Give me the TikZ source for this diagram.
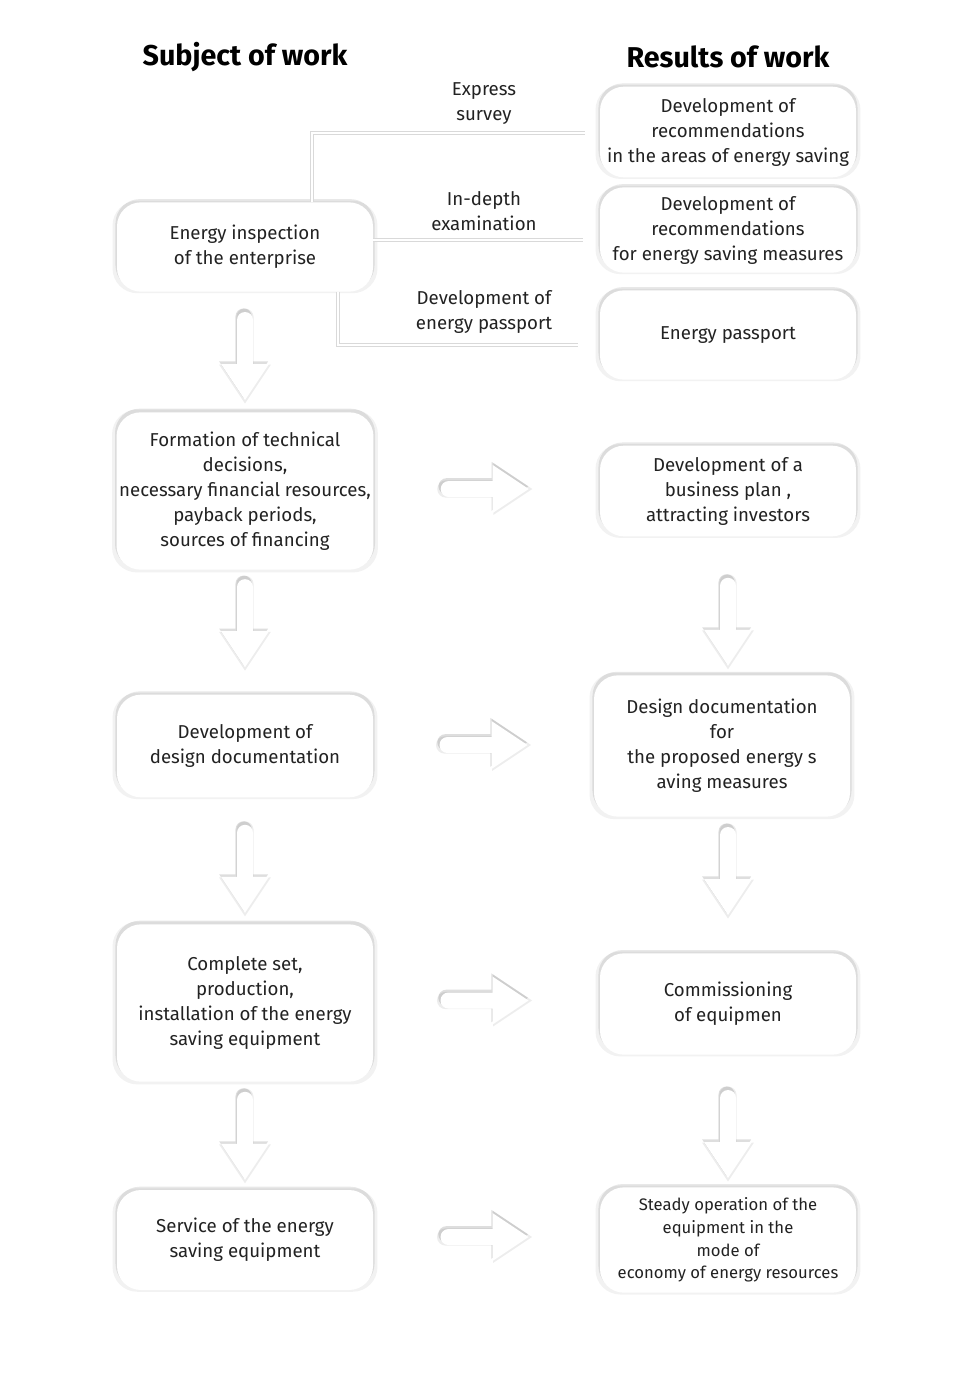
\documentclass[tikz,border=0pt]{standalone}
\usepackage{fontspec}
\setmainfont{Fira Sans}
\usetikzlibrary{calc}
\usetikzlibrary{shadows}

\definecolor{txt}{HTML}{222222}
\tikzset{
  soft/.style={general shadow={fill=black, opacity=0.05, shadow scale=1.035},
    general shadow={fill=black, opacity=0.09, shadow xshift=0pt, shadow yshift=2pt, shadow scale=1.012}},
  arrowsoft/.style={general shadow={fill=black, opacity=0.07, shadow scale=1.08},
    general shadow={fill=black, opacity=0.13, shadow xshift=-1pt, shadow yshift=2pt, shadow scale=1.02}},
  box/.style={fill=white, soft, rounded corners=18pt, align=center, text=txt,
    minimum width=192pt, inner sep=2pt, font=\fontsize{14}{18.75}\selectfont},
  lbl/.style={align=center, text=txt, font=\fontsize{14}{18.75}\selectfont},
  title/.style={text=black, font=\fontsize{21.5}{24}\selectfont\bfseries},
  conn/.style={draw=white, line width=1pt, preaction={draw=black!15, line width=3.5pt}},
  pics/blockarrow/.style={code={
    \fill[white, arrowsoft] (-36,8) -- (8,8) -- (8,24) -- (44,0) -- (8,-24) -- (8,-8) -- (-36,-8) arc(270:90:8) -- cycle;
  }}
}

\begin{document}
\begin{tikzpicture}[x=0.75pt,y=-0.75pt]
	\useasboundingbox[fill=white] (0,0) rectangle (973,1373);
	\node[title] (tsub) at (245,57) {Subject of work};
	\node[title] (tres) at (728,57) {Results of work};

	% subject of work
	\node[box, minimum height=67pt] (insp) at (245,247) {Energy inspection\\ of the enterprise};
	\node[box, minimum height=118pt] (form) at (245,491) {Formation of technical\\ decisions,\\ necessary financial resources,\\ payback periods,\\ sources of financing};
	\node[box, minimum height=77pt] (devdoc) at (245,746) {Development of\\ design documentation};
	\node[box, minimum height=118pt] (compl) at (245,1003) {Complete set,\\ production,\\ installation of the energy\\ saving equipment};
	\node[box, minimum height=75pt] (serv) at (245,1240) {Service of the energy\\ saving equipment};

	% results of work
	\node[box, minimum height=68pt] (rec1) at (728,132) {Development of\\ recommendations\\ in the areas of energy saving};
	\node[box, minimum height=64pt] (rec2) at (728,230) {Development of\\ recommendations\\ for energy saving measures};
	\node[box, minimum height=67pt] (pass) at (728,335) {Energy passport};
	\node[box, minimum height=68pt] (bplan) at (728,491) {Development of a\\ business plan ,\\ attracting investors};
	\node[box, minimum height=106pt] (design) at (722,746) {Design documentation\\ for\\ the proposed energy s\\ aving measures};
	\node[box, minimum height=76pt] (comm) at (728,1004) {Commissioning\\ of equipmen};
	\node[box, minimum height=79pt, font=\fontsize{12.5}{17}\selectfont] (steady) at (728,1240) {Steady operation of the\\ equipment in the\\ mode of\\ economy of energy resources};

	% kinds of inspection
	\draw[conn] ($(insp.north)+(67,0)$) |- ($(rec1.west)+(-15,1)$);
	\draw[conn] ($(insp.east)+(0,-7)$) -- ($(rec2.west)+(-17,10)$);
	\draw[conn] ($(insp.south)+(93,0)$) |- ($(pass.west)+(-22,10)$);
	\node[lbl] (lexp) at (484,104) {Express\\ survey};
	\node[lbl] (ldeep) at (484,211) {In-depth\\ examination};
	\node[lbl] (lpass) at (484,312) {Development of\\ energy passport};

	% arrows down
	\pic[rotate=-90] at ($(insp.south)!0.5!(form.north)+(0,4)$) {blockarrow};
	\pic[rotate=-90] at ($(form.south)!0.5!(devdoc.north)+(0,-9)$) {blockarrow};
	\pic[rotate=-90] at ($(devdoc.south)!0.5!(compl.north)+(0,8)$) {blockarrow};
	\pic[rotate=-90] at ($(compl.south)!0.5!(serv.north)$) {blockarrow};
	\pic[rotate=-90] at ($(bplan.south)!0.5!(design.north)+(3,16)$) {blockarrow};
	\pic[rotate=-90] at ($(design.south)!0.5!(comm.north)+(3,-14)$) {blockarrow};
	\pic[rotate=-90] at ($(comm.south)!0.5!(steady.north)+(0,13)$) {blockarrow};

	% arrows right
	\pic at ($(form.east)!0.5!(bplan.west)+(-2,-2)$) {blockarrow};
	\pic at ($(devdoc.east)!0.5!(design.west)+(0,-1)$) {blockarrow};
	\pic at ($(compl.east)!0.5!(comm.west)+(-2,-3)$) {blockarrow};
	\pic at ($(serv.east)!0.5!(steady.west)+(-2,-3)$) {blockarrow};
\end{tikzpicture}
\end{document}
